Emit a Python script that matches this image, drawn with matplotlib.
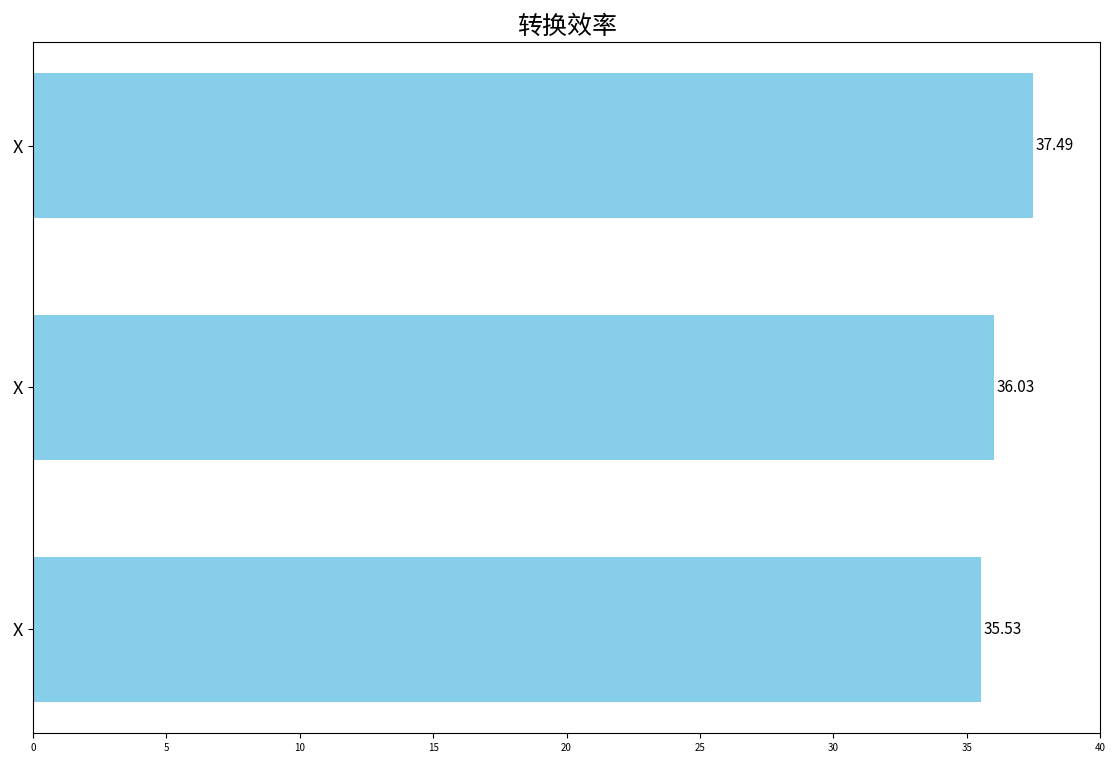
import matplotlib.pyplot as plt

plt.rcParams['font.family'] = ['Noto Sans CJK SC', 'DejaVu Sans']
plt.rcParams['axes.unicode_minus'] = False

labels = ["X", "X", "X"]
values = [35.53, 36.03, 37.49]

fig = plt.figure(figsize=(11.12, 7.63), dpi=100)
ax = fig.add_axes([0.0297, 0.0393, 0.9596, 0.9057])

pos = range(len(values))
ax.barh(pos, values, height=0.6, color="skyblue")
ax.set_yticks(list(pos))
ax.set_yticklabels(labels, fontsize=13)
ax.set_xlim(0, 40)
ax.tick_params(axis="x", labelsize=7)

for p, v in zip(pos, values):
    ax.text(v + 0.1, p, f"{v:.2f}", ha="left", va="center", fontsize=11)

ax.set_title("转换效率", fontsize=18)

plt.savefig("out.png", dpi=100)
plt.close()
